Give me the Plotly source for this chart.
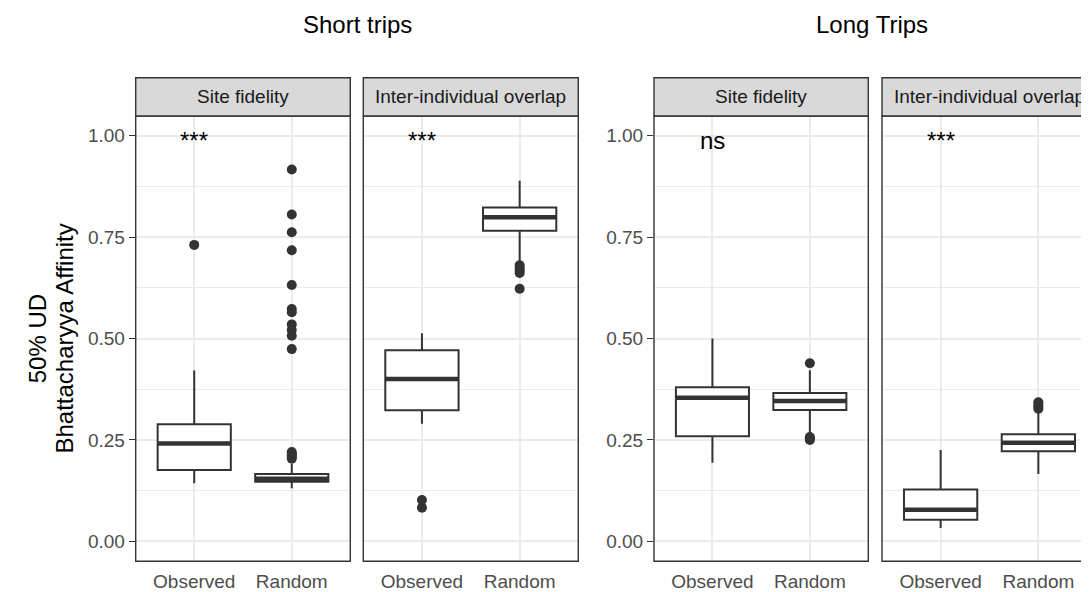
import plotly.graph_objects as go

# The page body has an 8px margin, so the figure is drawn 8px right/down.
OFF = 8
W, H = 1089 - OFF, 592 - OFF

categories = ["Observed", "Random"]
positions = [1, 2]
trip_titles = ["Short trips", "Long Trips"]
facet_labels = ["Site fidelity", "Inter-individual overlap",
                "Site fidelity", "Inter-individual overlap"]
signif_labels = ["***", "***", "ns", "***"]
y_tickvals = [0.0, 0.25, 0.50, 0.75, 1.00]
y_ticktext = ["0.00", "0.25", "0.50", "0.75", "1.00"]
y_minor = [0.125, 0.375, 0.625, 0.875]

# Box statistics per panel: [Observed, Random]
short_site_lower = [0.143, 0.131]
short_site_q1 = [0.176, 0.147]
short_site_median = [0.241, 0.154]
short_site_q3 = [0.289, 0.166]
short_site_upper = [0.421, 0.192]
short_site_out_obs = [0.731]
short_site_out_rand = [0.204, 0.208, 0.212, 0.216, 0.220, 0.474, 0.507, 0.521,
                       0.535, 0.565, 0.573, 0.632, 0.718, 0.762, 0.806, 0.917]

short_inter_lower = [0.290, 0.686]
short_inter_q1 = [0.323, 0.766]
short_inter_median = [0.400, 0.799]
short_inter_q3 = [0.471, 0.823]
short_inter_upper = [0.513, 0.889]
short_inter_out_obs = [0.083, 0.102]
short_inter_out_rand = [0.623, 0.662, 0.668, 0.674, 0.681]

long_site_lower = [0.194, 0.262]
long_site_q1 = [0.259, 0.324]
long_site_median = [0.354, 0.346]
long_site_q3 = [0.380, 0.366]
long_site_upper = [0.500, 0.422]
long_site_out_obs = []
long_site_out_rand = [0.250, 0.254, 0.257, 0.439]

long_inter_lower = [0.033, 0.166]
long_inter_q1 = [0.053, 0.222]
long_inter_median = [0.078, 0.243]
long_inter_q3 = [0.128, 0.264]
long_inter_upper = [0.225, 0.320]
long_inter_out_obs = []
long_inter_out_rand = [0.327, 0.332, 0.337, 0.343]

panels = [
    (short_site_lower, short_site_q1, short_site_median, short_site_q3, short_site_upper,
     [short_site_out_obs, short_site_out_rand]),
    (short_inter_lower, short_inter_q1, short_inter_median, short_inter_q3, short_inter_upper,
     [short_inter_out_obs, short_inter_out_rand]),
    (long_site_lower, long_site_q1, long_site_median, long_site_q3, long_site_upper,
     [long_site_out_obs, long_site_out_rand]),
    (long_inter_lower, long_inter_q1, long_inter_median, long_inter_q3, long_inter_upper,
     [long_inter_out_obs, long_inter_out_rand]),
]

# layout geometry (screen pixels of the target picture)
panel_px = [(135.7, 350.3), (363.3, 578.3), (654.0, 868.3), (882.0, 1097.0)]
panel_top, panel_bot = 116.7, 565.0
strip_top = 78.3
YR = [-0.049, 1.049]
XR = [0.4, 2.6]


def fx(px):
    return (px - OFF) / W


def fy(py):
    return (H - (py - OFF)) / H


FONT = "Liberation Sans, Arial, sans-serif"
DARK = "#333333"
GRID = "#ebebeb"
BOXW = 0.75

fig = go.Figure()
layout = dict(
    width=W, height=H, margin=dict(l=0, r=0, t=0, b=0),
    paper_bgcolor="white", plot_bgcolor="white", showlegend=False,
    font=dict(family=FONT),
)
shapes = []
annotations = []

ydom = [fy(panel_bot), fy(panel_top)]

for i, (lo, q1, med, q3, up, outs) in enumerate(panels):
    n = i + 1
    xa = "x" if n == 1 else f"x{n}"
    ya = "y" if n == 1 else f"y{n}"
    x0p, x1p = panel_px[i]
    x1clip = min(x1p, W + OFF)
    pxu = (x1p - x0p) / (XR[1] - XR[0])
    xr = [XR[0], XR[0] + (x1clip - x0p) / pxu]
    show_y = i in (0, 2)
    layout["xaxis" if n == 1 else f"xaxis{n}"] = dict(
        domain=[fx(x0p), min(fx(x1clip), 1.0)], range=xr, anchor=ya,
        tickvals=positions, ticktext=categories, ticks="",
        ticklabelstandoff=7,
        showgrid=True, gridcolor=GRID, gridwidth=1.8, zeroline=False,
        showline=False, tickfont=dict(size=19, color="#4d4d4d", family=FONT),
        fixedrange=True,
    )
    layout["yaxis" if n == 1 else f"yaxis{n}"] = dict(
        domain=ydom, range=YR, anchor=xa,
        tickvals=y_tickvals, ticktext=y_ticktext,
        showticklabels=show_y, ticks="outside" if show_y else "",
        ticklen=6, tickwidth=1.3, tickcolor=DARK,
        showgrid=True, gridcolor=GRID, gridwidth=1.8, zeroline=False,
        showline=False, tickfont=dict(size=19, color="#4d4d4d", family=FONT),
        minor=dict(tickvals=y_minor, showgrid=True, gridcolor=GRID,
                   gridwidth=1.0, ticks=""),
        fixedrange=True,
    )
    for j in range(2):
        fig.add_trace(go.Box(
            x=[positions[j]], q1=[q1[j]], median=[med[j]], q3=[q3[j]],
            lowerfence=[lo[j]], upperfence=[up[j]], width=BOXW,
            whiskerwidth=0, fillcolor="white", boxpoints=False,
            line=dict(color=DARK, width=2), xaxis=xa, yaxis=ya,
            hoverinfo="skip",
        ))
        fig.add_trace(go.Scatter(
            x=[positions[j] - BOXW / 2, positions[j] + BOXW / 2], y=[med[j], med[j]],
            mode="lines", line=dict(color=DARK, width=4.5), xaxis=xa, yaxis=ya,
            hoverinfo="skip",
        ))
        if outs[j]:
            fig.add_trace(go.Scatter(
                x=[positions[j]] * len(outs[j]), y=outs[j], mode="markers",
                marker=dict(color=DARK, size=10), xaxis=xa, yaxis=ya,
                hoverinfo="skip",
            ))
    # panel frame
    shapes.append(dict(type="rect", xref="paper", yref="paper",
                       x0=fx(x0p), x1=fx(x1p), y0=ydom[0], y1=ydom[1],
                       line=dict(color=DARK, width=1.4), fillcolor="rgba(0,0,0,0)",
                       layer="above"))
    # strip
    shapes.append(dict(type="rect", xref="paper", yref="paper",
                       x0=fx(x0p), x1=fx(x1p), y0=ydom[1], y1=fy(strip_top),
                       line=dict(color=DARK, width=1.4), fillcolor="#d9d9d9",
                       layer="above"))
    annotations.append(dict(
        text=facet_labels[i], xref="paper", yref="paper",
        x=fx((x0p + x1p) / 2), y=fy((strip_top + panel_top) / 2),
        xanchor="center", yanchor="middle", showarrow=False,
        font=dict(size=19, color="#1a1a1a", family=FONT),
    ))
    # significance label
    annotations.append(dict(
        text=signif_labels[i], xref=xa, yref=ya, x=positions[0], y=1.0,
        yshift=-5, xanchor="center", yanchor="middle", showarrow=False,
        font=dict(size=24, color="black", family=FONT),
    ))

# trip titles
title_cx = [(panel_px[0][0] + panel_px[1][1]) / 2, 872.0]
for k, title in enumerate(trip_titles):
    annotations.append(dict(
        text=title, xref="paper", yref="paper", x=fx(title_cx[k]), y=fy(24.7),
        xanchor="center", yanchor="middle", showarrow=False,
        font=dict(size=24, color="black", family=FONT),
    ))

# y-axis titles
ycen = fy((panel_top + panel_bot) / 2)
annotations.append(dict(
    text="50% UD", xref="paper", yref="paper", x=fx(37.7), y=ycen,
    xanchor="center", yanchor="middle", showarrow=False, textangle=-90,
    font=dict(size=24, color="black", family=FONT),
))
annotations.append(dict(
    text="Bhattacharyya Affinity", xref="paper", yref="paper", x=fx(65.0), y=ycen,
    xanchor="center", yanchor="middle", showarrow=False, textangle=-90,
    font=dict(size=24, color="black", family=FONT),
))

layout["shapes"] = shapes
layout["annotations"] = annotations
fig.update_layout(**layout)
fig.write_html("out.html")
